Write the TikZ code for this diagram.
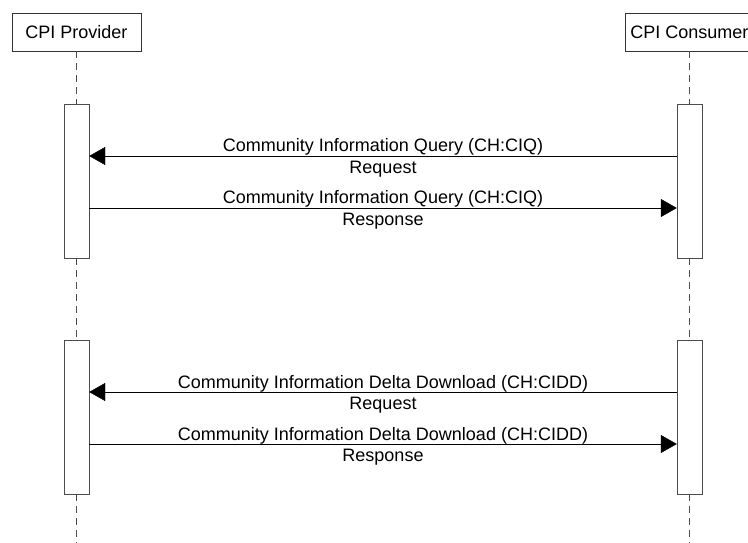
\documentclass[tikz,border=0pt]{standalone}
\usepackage{fontspec}
\setmainfont{Liberation Sans}
\usetikzlibrary{arrows.meta}
\begin{document}
\begin{tikzpicture}[x=1pt,y=-1pt,
    actor/.style={draw=black!80, minimum width=129pt, minimum height=38pt,
      inner xsep=5pt, font=\fontsize{18}{20}\selectfont},
    act/.style={draw=black!70, fill=white, minimum width=25pt,
      minimum height=154pt, inner sep=0pt},
    life/.style={draw=black!70, dash pattern=on 7pt off 5pt},
    msg/.style={draw=black, -{Triangle[length=16pt,width=18pt]}},
    lbl/.style={font=\fontsize{18}{20}\selectfont, inner sep=0pt, anchor=base}]
  \useasboundingbox (0,0) rectangle (748,543);
  % participants
  \node[actor] (prov) at (76.5,32) {CPI Provider};
  \node[actor] (cons) at (689.5,32) {CPI Consumer};
  % activation bars
  \node[act, anchor=north] (pa1) at (76.5,104) {};
  \node[act, anchor=north] (pa2) at (76.5,340) {};
  \node[act, anchor=north] (ca1) at (689.5,104) {};
  \node[act, anchor=north] (ca2) at (689.5,340) {};
  \coordinate (provend) at (76.5,543);
  \coordinate (consend) at (689.5,543);
  % lifelines
  \begin{scope}[life]
    \draw (prov.south) to (pa1.north);
    \draw (pa1.south) to (pa2.north);
    \draw (pa2.south) to (provend);
    \draw (cons.south) to (ca1.north);
    \draw (ca1.south) to (ca2.north);
    \draw (ca2.south) to (consend);
  \end{scope}
  % message ends
  \coordinate (q1c) at (ca1.west |- 0,156);
  \coordinate (q1p) at (pa1.east |- 0,156);
  \coordinate (q2p) at (pa1.east |- 0,208);
  \coordinate (q2c) at (ca1.west |- 0,208);
  \coordinate (d1c) at (ca2.west |- 0,392);
  \coordinate (d1p) at (pa2.east |- 0,392);
  \coordinate (d2p) at (pa2.east |- 0,444);
  \coordinate (d2c) at (ca2.west |- 0,444);
  % messages
  \draw[msg] (q1c) to
    node[lbl, yshift=4pt] {Community Information Query (CH:CIQ)}
    node[lbl, yshift=-17pt] {Request} (q1p);
  \draw[msg] (q2p) to
    node[lbl, yshift=4pt] {Community Information Query (CH:CIQ)}
    node[lbl, yshift=-17pt] {Response} (q2c);
  \draw[msg] (d1c) to
    node[lbl, yshift=4pt] {Community Information Delta Download (CH:CIDD)}
    node[lbl, yshift=-17pt] {Request} (d1p);
  \draw[msg] (d2p) to
    node[lbl, yshift=4pt] {Community Information Delta Download (CH:CIDD)}
    node[lbl, yshift=-17pt] {Response} (d2c);
\end{tikzpicture}
\end{document}
